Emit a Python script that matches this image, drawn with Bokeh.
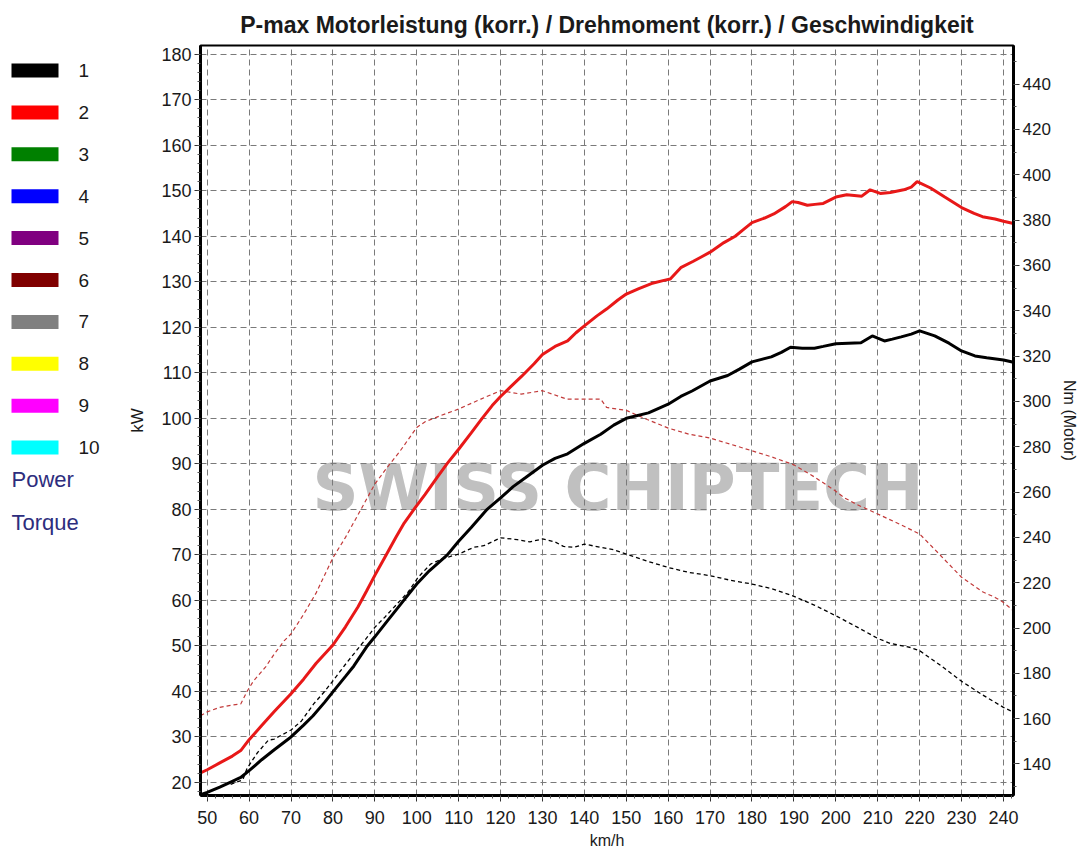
from bokeh.plotting import figure
from bokeh.models import Range1d, LinearAxis, FixedTicker, Label
from bokeh.layouts import row
from bokeh.embed import file_html
from bokeh.resources import INLINE
from bokeh.core.properties import value

TITLE = "P-max Motorleistung (korr.) / Drehmoment (korr.) / Geschwindigkeit"
WATERMARK = "SWISS CHIPTECH"
X_LABEL = "km/h"
Y_LABEL = "kW"
Y2_LABEL = "Nm (Motor)"

legend_labels = ["1", "2", "3", "4", "5", "6", "7", "8", "9", "10"]
legend_colors = ["#000000", "#ff0000", "#008000", "#0000ff", "#800080",
                 "#800000", "#808080", "#ffff00", "#ff00ff", "#00ffff"]
legend_extra = ["Power", "Torque"]

x_ticks = list(range(50, 250, 10))
kw_ticks = list(range(20, 190, 10))
nm_ticks = list(range(140, 460, 20))

# Run 2 (red solid): power, tuned
speed_pw_tuned = [48.4, 50, 53, 56, 58, 60, 63, 66, 70, 73, 76, 80, 83, 86, 88, 90, 92.4, 95, 97, 99.5,
                  102, 105, 107.2, 110, 113, 115.6, 118, 120, 122.5, 125, 128, 130, 133, 136, 138, 140,
                  143, 145.3, 148, 150, 153, 156, 159, 160.5, 163, 166, 168, 170, 173.3, 176, 178, 180,
                  183, 185.2, 188, 189.6, 191, 193.2, 195, 197, 200, 202.6, 206.2, 208.2, 210.6, 213,
                  216.2, 218, 219.4, 222.6, 226, 230, 233, 235, 238, 240, 242.4]
power_tuned = [22.1, 22.8, 24.3, 25.8, 27.0, 29.4, 32.5, 35.6, 39.5, 42.7, 46.2, 50.2, 54.2, 58.6, 62.0,
               65.5, 69.5, 73.8, 77.0, 80.2, 83.3, 87.2, 90.0, 93.2, 96.8, 100.0, 102.8, 104.8, 107.0,
               109.2, 112.0, 114.0, 115.8, 117.0, 118.8, 120.3, 122.5, 124.0, 126.0, 127.3, 128.5, 129.6,
               130.3, 130.6, 133.1, 134.5, 135.5, 136.5, 138.6, 140.0, 141.5, 143.0, 144.0, 144.9, 146.5,
               147.6, 147.4, 146.8, 147.0, 147.2, 148.6, 149.1, 148.8, 150.2, 149.4, 149.6, 150.2, 150.8,
               152.0, 150.6, 148.6, 146.3, 145.0, 144.3, 143.8, 143.3, 142.8]

# Run 1 (black solid): power, stock
speed_pw_stock = [48.4, 50, 53, 55.6, 58, 60, 63, 66, 70, 73, 75.2, 78, 80, 83, 85, 88.2, 90, 93, 96.9,
                  100, 103, 107.3, 110, 113, 116.8, 120, 123, 126, 130, 133, 136, 140, 143.9, 147, 150,
                  155.3, 158, 160, 163, 165.7, 170, 174.2, 177, 180, 184.6, 187, 189.2, 192, 194.9, 197,
                  200, 203, 206, 208.7, 210, 211.6, 213.5, 215.6, 218, 220, 223.6, 227, 230, 233.2, 236,
                  240, 242.4]
power_stock = [17.3, 17.8, 19.0, 20.1, 21.1, 22.6, 25.0, 27.2, 30.0, 32.6, 34.6, 37.6, 39.9, 43.3, 45.6,
               50.0, 52.0, 55.5, 60.0, 63.6, 66.5, 70.0, 73.0, 76.0, 80.0, 82.5, 85.0, 87.0, 89.7, 91.2,
               92.2, 94.5, 96.5, 98.5, 100.0, 101.2, 102.3, 103.1, 104.8, 106.0, 108.2, 109.4, 110.8,
               112.4, 113.5, 114.5, 115.6, 115.4, 115.4, 115.8, 116.4, 116.5, 116.6, 118.1, 117.6, 117.0,
               117.4, 117.9, 118.5, 119.2, 118.1, 116.5, 114.8, 113.7, 113.3, 112.8, 112.3]

# Run 1 (black dashed): torque, stock
speed_tq_stock = [55.6, 57, 58.5, 59.5, 62, 64.6, 66, 70, 72.5, 75.4, 78, 80, 83, 85.6, 88, 90, 92.5,
                  95.3, 98, 100.3, 103.3, 106, 110, 113.6, 116, 120, 124, 127, 130, 133, 135, 137.5,
                  140, 143.9, 147, 150, 155, 160, 165, 170, 175, 180, 185, 189.6, 195, 200, 205, 210,
                  213, 217.8, 220, 225, 230, 235, 240, 242.4]
torque_stock = [131.0, 132.0, 133.0, 138.0, 145.0, 150.5, 151.0, 155.0, 159.0, 166.5, 172.0, 176.7,
                184.0, 190.0, 195.5, 200.3, 205.0, 210.6, 216.0, 222.3, 228.2, 230.5, 232.6, 235.6,
                236.3, 239.8, 239.0, 238.0, 239.3, 238.0, 236.0, 235.6, 237.0, 235.6, 234.5, 232.6,
                229.5, 226.7, 224.5, 223.1, 221.0, 219.4, 217.2, 214.3, 210.0, 205.4, 200.5, 195.4,
                193.2, 191.4, 190.0, 183.5, 176.5, 170.5, 165.0, 162.8]

# Run 2 (red dashed): torque, tuned
speed_tq_tuned = [48.4, 50, 53, 56, 58, 59.5, 61, 64, 66, 68.4, 70, 73, 76, 80, 83, 86, 90, 93, 96, 100,
                  102, 105.7, 110, 115.3, 120, 124.9, 130, 135.8, 140, 143.9, 145.3, 150, 155, 160, 165,
                  170, 175, 180, 185, 190, 195, 199.5, 202, 205, 210, 215, 220, 225, 230, 235, 238, 240,
                  242.4]
torque_tuned = [161.3, 163.0, 165.0, 166.0, 166.5, 172.0, 176.5, 183.0, 188.5, 194.4, 197.4, 206.0,
                215.5, 231.0, 240.0, 250.0, 263.5, 271.0, 278.0, 288.5, 291.0, 293.7, 296.6, 301.0,
                304.7, 303.2, 304.7, 301.0, 301.0, 301.0, 297.3, 296.0, 292.0, 288.2, 285.5, 283.8,
                281.0, 278.2, 275.3, 272.0, 266.5, 261.0, 257.5, 254.5, 250.3, 246.0, 241.5, 232.0,
                222.4, 216.0, 213.5, 211.3, 207.6]

FONT = "Liberation Sans"
TEXT = "#1a1a1a"

FW, FH = 813, 750
BT, BB = 45, 55                # top / bottom borders -> total height 850
LW = 120                       # legend column width
BL, BR = 80, 67                # chart left / right borders -> total width 1080
FRAME_TOP = BT
FRAME_BOT = FRAME_TOP + FH

# ---------------- legend column (own figure, frame aligned with the chart frame) ----------------
leg = figure(frame_width=LW, frame_height=FH,
             x_range=Range1d(0, LW), y_range=Range1d(FRAME_BOT, FRAME_TOP),
             output_backend="svg", toolbar_location=None,
             min_border_left=0, min_border_right=0, min_border_top=BT, min_border_bottom=BB,
             x_axis_location=None, y_axis_location=None)
leg.grid.visible = False
leg.outline_line_color = None
step = 41.9
ys = [70 + i * step for i in range(len(legend_labels))]
leg.rect(x=[34.5] * len(ys), y=ys, width=47, height=14, fill_color=legend_colors, line_color=None)
leg.text(x=[78] * len(ys), y=ys, text=legend_labels, text_font=value(FONT), text_font_size="19px",
         text_color=TEXT, text_baseline="middle", text_align="left")
ye = [479 + j * 43 for j in range(len(legend_extra))]
leg.text(x=[11] * len(ye), y=ye, text=legend_extra, text_font=value(FONT), text_font_size="22px",
         text_color="#2d2d7d", text_baseline="middle", text_align="left")

# ---------------- main chart ----------------
X0, X1 = 48.4, 242.4
Y0, Y1 = 17.14, 181.9
p = figure(frame_width=FW, frame_height=FH,
           x_range=Range1d(X0, X1), y_range=Range1d(Y0, Y1),
           output_backend="svg", toolbar_location=None,
           min_border_left=BL, min_border_right=BR, min_border_top=BT,
           min_border_bottom=BB, title=TITLE)
p.title.text_font = FONT
p.title.text_font_size = "23px"
p.title.text_font_style = "bold"
p.title.text_color = TEXT
p.title.align = "center"
p.title.standoff = 16

p.outline_line_color = "black"
p.outline_line_width = 2
p.outline_line_alpha = 1

p.extra_y_ranges = {"nm": Range1d(126.1, 457.0)}
ax_r = LinearAxis(y_range_name="nm", axis_label=Y2_LABEL)
p.add_layout(ax_r, "right")

p.xaxis.ticker = FixedTicker(ticks=x_ticks, minor_ticks=list(range(48, 244, 2)))
p.yaxis[0].ticker = FixedTicker(ticks=kw_ticks, minor_ticks=list(range(18, 184, 2)))
ax_r.ticker = FixedTicker(ticks=nm_ticks, minor_ticks=list(range(130, 460, 10)))
p.xaxis.axis_label = X_LABEL
p.yaxis[0].axis_label = Y_LABEL

for ax in [p.xaxis[0], p.yaxis[0], ax_r]:
    ax.axis_line_width = 3
    ax.axis_line_color = "black"
    ax.major_tick_out = 6
    ax.major_tick_in = 0
    ax.minor_tick_out = 3
    ax.minor_tick_in = 0
    ax.major_tick_line_color = "#333333"
    ax.minor_tick_line_color = "#555555"
    ax.major_label_text_font = FONT
    ax.major_label_text_font_size = "18px"
    ax.major_label_text_color = TEXT
    ax.major_label_standoff = 3
    ax.axis_label_text_font = FONT
    ax.axis_label_text_font_size = "17px"
    ax.axis_label_text_font_style = "normal"
    ax.axis_label_text_color = TEXT
p.xaxis[0].major_label_standoff = 9
p.xaxis[0].axis_label_text_font_size = "16px"
p.xaxis[0].axis_label_standoff = 5
p.yaxis[0].axis_label_standoff = 11
ax_r.major_label_text_font_size = "17px"
ax_r.axis_label_text_font_size = "16px"
ax_r.axis_label_standoff = 7

for g in [p.xgrid[0], p.ygrid[0]]:
    g.grid_line_color = "#7a7a7a"
    g.grid_line_width = 1
    g.grid_line_dash = "6 4"

# watermark centred at picture pixel (617.5, 487)
wm_x = X0 + (617.5 - (LW + BL)) * (X1 - X0) / FW
wm_y = Y0 + (FRAME_BOT - 487) * (Y1 - Y0) / FH
wm = Label(x=wm_x, y=wm_y, text=WATERMARK, text_font="DejaVu Sans", text_font_style="bold",
           text_font_size="64px", text_color="#c0c0c0", text_align="center",
           text_baseline="middle", level="image")
p.add_layout(wm)

p.line(speed_tq_stock, torque_stock, y_range_name="nm", line_color="black", line_width=1.3,
       line_dash="4 3")
p.line(speed_tq_tuned, torque_tuned, y_range_name="nm", line_color="#c23a3a", line_width=1.2,
       line_dash="4 3")
p.line(speed_pw_stock, power_stock, line_color="black", line_width=3)
p.line(speed_pw_tuned, power_tuned, line_color="#e81818", line_width=3)

layout = row(leg, p)
open("out.html", "w").write(file_html(layout, INLINE))
